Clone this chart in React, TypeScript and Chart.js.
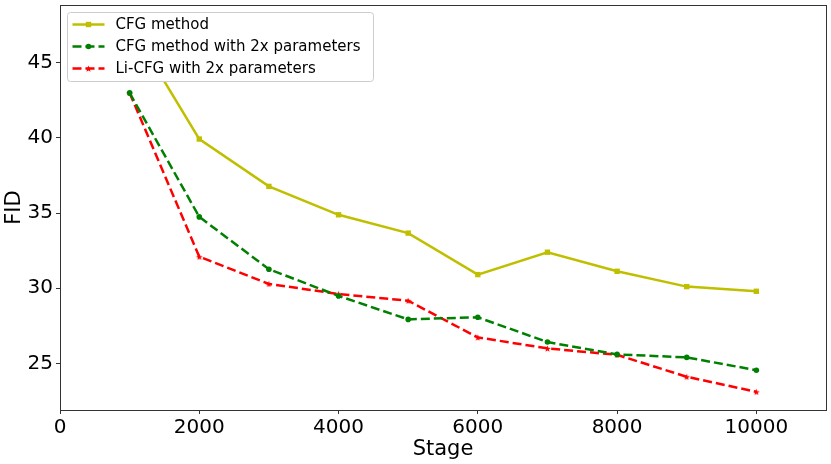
import { useEffect, useRef } from 'react';
import { Chart, registerables, type Plugin } from 'chart.js';
import { drawPoint } from 'chart.js/helpers';

Chart.register(...registerables);

const stages = [1000, 2000, 3000, 4000, 5000, 6000, 7000, 8000, 9000, 10000];
const cfgMethod = [47.6, 39.93, 36.78, 34.89, 33.67, 30.91, 32.4, 31.13, 30.11, 29.8];
const cfg2x = [43.0, 34.75, 31.27, 29.49, 27.93, 28.07, 26.42, 25.6, 25.4, 24.55];
const liCfg2x = [43.0, 32.1, 30.29, 29.62, 29.17, 26.73, 26.0, 25.57, 24.11, 23.11];
const xTicks = [0, 2000, 4000, 6000, 8000, 10000];
const yTicks = [25, 30, 35, 40, 45];

const FONT = "'DejaVu Sans', sans-serif";

function makeStar(color: string, size: number) {
  const c = document.createElement('canvas');
  c.width = size;
  c.height = size;
  const ctx = c.getContext('2d')!;
  const cx = size / 2;
  const outer = size / 2;
  const inner = outer * 0.42;
  ctx.beginPath();
  for (let i = 0; i < 10; i++) {
    const r = i % 2 === 0 ? outer : inner;
    const a = -Math.PI / 2 + (i * Math.PI) / 5;
    const px = cx + r * Math.cos(a);
    const py = cx + 0.5 + r * Math.sin(a);
    if (i === 0) ctx.moveTo(px, py);
    else ctx.lineTo(px, py);
  }
  ctx.closePath();
  ctx.fillStyle = color;
  ctx.fill();
  return c;
}

const framePlugin: Plugin<'line'> = {
  id: 'frame',
  afterDraw(chart) {
    const { ctx, chartArea } = chart;
    ctx.save();
    ctx.strokeStyle = '#333';
    ctx.lineWidth = 1;
    ctx.strokeRect(
      Math.round(chartArea.left) + 0.5,
      Math.round(chartArea.top) + 0.5,
      Math.round(chartArea.right - chartArea.left),
      Math.round(chartArea.bottom - chartArea.top),
    );
    ctx.restore();
  },
};

const legendPlugin: Plugin<'line'> = {
  id: 'boxLegend',
  afterDraw(chart) {
    const { ctx, chartArea } = chart;
    const sets = chart.data.datasets as any[];
    ctx.save();
    ctx.font = `15px ${FONT}`;
    const textW = Math.max(...sets.map((d) => ctx.measureText(d.label).width));
    const left = chartArea.left + 7.5;
    const top = chartArea.top + 7.5;
    const rowH = 22;
    const w = 55 + textW + 6;
    const h = sets.length * rowH + 3;
    ctx.beginPath();
    ctx.roundRect(left, top, w, h, 3);
    ctx.fillStyle = '#ffffff';
    ctx.fill();
    ctx.strokeStyle = '#cccccc';
    ctx.lineWidth = 1;
    ctx.stroke();
    sets.forEach((d, i) => {
      const y = top + 12 + i * rowH;
      ctx.beginPath();
      ctx.setLineDash(d.borderDash || []);
      ctx.strokeStyle = d.borderColor;
      ctx.lineWidth = d.borderWidth;
      ctx.moveTo(left + 5, y);
      ctx.lineTo(left + 37, y);
      ctx.stroke();
      ctx.setLineDash([]);
      ctx.fillStyle = d.pointBackgroundColor;
      drawPoint(ctx, { pointStyle: d.pointStyle, radius: d.pointRadius, rotation: 0, borderWidth: 0 }, left + 21, y);
      ctx.fillStyle = '#000';
      ctx.textBaseline = 'middle';
      ctx.textAlign = 'left';
      ctx.fillText(d.label, left + 48, y + 1);
    });
    ctx.restore();
  },
};

export default function App() {
  const canvasRef = useRef<HTMLCanvasElement>(null);

  useEffect(() => {
    if (!canvasRef.current) return;
    const star = makeStar('#ff0000', 7);
    const toXY = (vals: number[]) => vals.map((v, i) => ({ x: stages[i], y: v }));

    const chart = new Chart(canvasRef.current, {
      type: 'line',
      data: {
        datasets: [
          {
            label: 'CFG method',
            data: toXY(cfgMethod),
            borderColor: '#bfbf00',
            backgroundColor: '#bfbf00',
            pointBackgroundColor: '#bfbf00',
            borderWidth: 2.5,
            pointStyle: 'rect',
            pointRadius: 3.8,
            pointBorderWidth: 0,
            tension: 0,
          },
          {
            label: 'CFG method with 2x parameters',
            data: toXY(cfg2x),
            borderColor: '#008000',
            backgroundColor: '#008000',
            pointBackgroundColor: '#008000',
            borderWidth: 2.5,
            borderDash: [9, 4],
            pointStyle: 'circle',
            pointRadius: 2.8,
            pointBorderWidth: 0,
            tension: 0,
          },
          {
            label: 'Li-CFG with 2x parameters',
            data: toXY(liCfg2x),
            borderColor: '#ff0000',
            backgroundColor: '#ff0000',
            pointBackgroundColor: '#ff0000',
            borderWidth: 2.5,
            borderDash: [9, 4],
            pointStyle: star,
            pointRadius: 3.5,
            pointBorderWidth: 0,
            tension: 0,
          },
        ] as any,
      },
      options: {
        responsive: false,
        animation: false,
        layout: { padding: { left: 0, top: 5, right: 5, bottom: 0 } },
        scales: {
          x: {
            type: 'linear',
            min: 0,
            max: 11000,
            afterBuildTicks: (s) => {
              s.ticks = xTicks.map((v) => ({ value: v }));
            },
            afterFit: (s) => {
              s.height = 54;
            },
            grid: { drawOnChartArea: false, drawTicks: true, tickLength: 4, color: '#333' },
            border: { display: false },
            ticks: {
              color: '#000',
              font: { family: FONT, size: 20 },
              padding: 2,
              maxRotation: 0,
              callback: (v) => String(v),
            },
            title: {
              display: true,
              text: 'Stage',
              color: '#000',
              font: { family: FONT, size: 21 },
              padding: { top: 0, bottom: 2 },
            },
          },
          y: {
            min: 21.9,
            max: 48.85,
            afterBuildTicks: (s) => {
              s.ticks = yTicks.map((v) => ({ value: v }));
            },
            afterFit: (s: any) => {
              s.width = 60;
              s.paddingTop = 0;
              s.paddingBottom = 0;
            },
            grid: { drawOnChartArea: false, drawTicks: true, tickLength: 4, color: '#333' },
            border: { display: false },
            ticks: {
              color: '#000',
              font: { family: FONT, size: 20 },
              padding: 3,
              callback: (v) => String(v),
            },
            title: {
              display: true,
              text: 'FID',
              color: '#000',
              font: { family: FONT, size: 21 },
              padding: { top: 2, bottom: 0 },
            },
          },
        },
        plugins: {
          legend: { display: false },
          tooltip: { enabled: false },
        },
      },
      plugins: [framePlugin, legendPlugin],
    });

    return () => chart.destroy();
  }, []);

  return (
    <div style={{ position: 'fixed', left: 0, top: 0, width: 831, height: 464, background: '#fff' }}>
      <canvas ref={canvasRef} width={831} height={464} style={{ width: 831, height: 464 }} />
    </div>
  );
}
